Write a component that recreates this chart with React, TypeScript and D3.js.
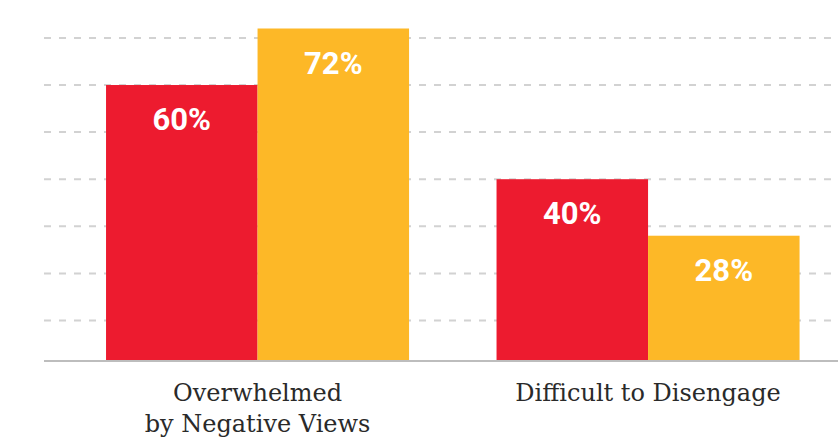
import React from "react";
import * as d3 from "d3";

const categories = ["Overwhelmed\nby Negative Views", "Difficult to Disengage"];
const seriesNames = ["Series A", "Series B"];
const seriesA = [60, 40];
const seriesB = [72, 28];
const gridTicks = [10, 20, 30, 40, 50, 60, 70];
const colors = ["#ED1B2F", "#FDB827"];

const W = 838;
const H = 439;

export default function App() {
  const baseY = 361;
  const y = d3.scaleLinear().domain([1.4, 72]).range([baseY, 28.5]);
  const x0 = d3
    .scaleBand<string>()
    .domain(categories)
    .range([62.3, 843.3])
    .paddingInner(0.224)
    .paddingOuter(0.112);
  const x1 = d3
    .scaleBand<string>()
    .domain(seriesNames)
    .range([0, x0.bandwidth()]);
  const series = [seriesA, seriesB];

  return (
    <svg
      width={W}
      height={H}
      style={{ position: "absolute", left: 0, top: 0, display: "block" }}
    >
      <rect width={W} height={H} fill="#fff" />
      {gridTicks.map((t) => (
        <line
          key={t}
          x1={44}
          x2={W}
          y1={y(t)}
          y2={y(t)}
          stroke="#d2d2d2"
          strokeWidth={2}
          strokeDasharray="7 8"
        />
      ))}
      {categories.map((c, ci) =>
        series.map((s, si) => {
          const v = s[ci];
          const bx = (x0(c) as number) + (x1(seriesNames[si]) as number);
          const bw = x1.bandwidth();
          return (
            <g key={c + si}>
              <rect
                x={bx}
                y={y(v)}
                width={bw}
                height={baseY - y(v)}
                fill={colors[si]}
              />
              <text
                x={bx + bw / 2}
                y={y(v) + 45}
                textAnchor="middle"
                fill="#fff"
                fontFamily="Roboto, 'Noto Sans', sans-serif"
                fontWeight={700}
                fontSize={31}
              >
                {v}%
              </text>
            </g>
          );
        })
      )}
      <line x1={44} x2={W} y1={baseY} y2={baseY} stroke="#bdbdbd" strokeWidth={2} />
      {categories.map((c) => (
        <text
          key={c}
          textAnchor="middle"
          fill="#2a2a2a"
          fontFamily="'DejaVu Serif', serif"
          fontSize={24}
          x={(x0(c) as number) + x0.bandwidth() / 2}
        >
          {c.split("\n").map((line, i) => (
            <tspan key={i} x={(x0(c) as number) + x0.bandwidth() / 2} y={401 + i * 30.5}>
              {line}
            </tspan>
          ))}
        </text>
      ))}
    </svg>
  );
}
